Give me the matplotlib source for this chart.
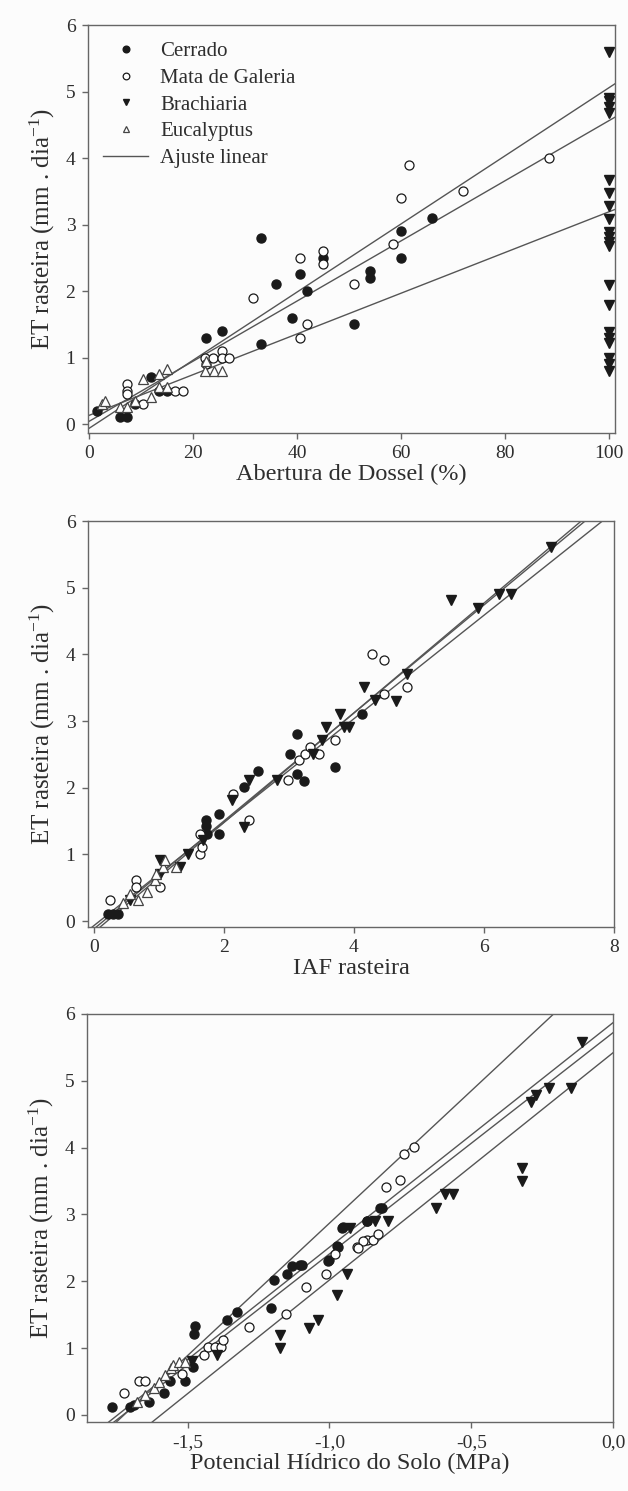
import matplotlib
matplotlib.use("Agg")
import matplotlib.pyplot as plt
from matplotlib.lines import Line2D
import numpy as np

plt.rcParams['font.family'] = ['Liberation Serif', 'DejaVu Serif']
plt.rcParams['mathtext.fontset'] = 'custom'
plt.rcParams['mathtext.rm'] = 'Liberation Serif'
plt.rcParams['mathtext.it'] = 'Liberation Serif'

# ---- Panel 1: Abertura de Dossel (%) ----
cer1_x = [1.5, 6, 7.4, 8.8, 12, 13.5, 15, 22.5, 25.5, 33, 39, 51, 33, 36, 40.5, 42, 45, 54, 54, 60, 60, 66]
cer1_y = [0.2, 0.1, 0.1, 0.3, 0.7, 0.5, 0.5, 1.3, 1.4, 1.2, 1.6, 1.5, 2.8, 2.1, 2.25, 2.0, 2.5, 2.3, 2.2, 2.9, 2.5, 3.1]
mat1_x = [7.4, 7.4, 7.4, 10.4, 16.5, 18, 22.3, 23.9, 25.5, 25.5, 27, 22.5, 31.5, 40.5, 42, 40.5, 45, 45, 51, 58.5, 60, 61.5, 72, 88.5]
mat1_y = [0.6, 0.5, 0.45, 0.3, 0.5, 0.5, 1.0, 1.0, 1.1, 1.0, 1.0, 0.9, 1.9, 1.3, 1.5, 2.5, 2.6, 2.4, 2.1, 2.7, 3.4, 3.9, 3.5, 4.0]
bra1_x = [100] * 21
bra1_y = [5.6, 4.9, 4.85, 4.77, 4.68, 3.67, 3.48, 3.28, 3.08, 2.89, 2.81, 2.74, 2.68, 2.09, 1.79,
          1.39, 1.3, 1.22, 1.0, 0.9, 0.8]
euc1_x = [2.5, 3, 6, 7.4, 8.8, 10.4, 12, 13.5, 15, 13.5, 15, 22.4, 24, 25.5, 22.5]
euc1_y = [0.3, 0.35, 0.25, 0.25, 0.35, 0.67, 0.4, 0.75, 0.82, 0.55, 0.55, 0.8, 0.8, 0.8, 0.95]
fit1_a = [-0.065, 0.04, 0.13]
fit1_b = [0.0512, 0.0452, 0.0306]

# ---- Panel 2: IAF rasteira ----
cer2_x = [0.22, 0.3, 0.37, 1.73, 1.73, 1.74, 1.92, 1.92, 2.31, 2.52, 3.02, 3.12, 3.12, 3.23, 3.71, 4.12]
cer2_y = [0.11, 0.11, 0.1, 1.52, 1.42, 1.31, 1.61, 1.31, 2.01, 2.25, 2.51, 2.81, 2.21, 2.1, 2.31, 3.1]
mat2_x = [0.25, 0.65, 0.65, 1.02, 1.64, 1.64, 1.67, 2.14, 2.38, 2.99, 3.15, 3.25, 3.32, 3.47, 3.71, 4.28,
          4.47, 4.46, 4.81]
mat2_y = [0.31, 0.61, 0.51, 0.51, 1.3, 1.01, 1.11, 1.91, 1.51, 2.11, 2.41, 2.51, 2.61, 2.51, 2.71, 4.01,
          3.91, 3.41, 3.51]
bra2_x = [0.55, 1.02, 1.02, 1.33, 1.45, 1.68, 2.12, 2.31, 2.38, 2.81, 3.37, 3.51, 3.57, 3.79, 3.84, 3.92,
          4.15, 4.33, 4.64, 4.82, 5.5, 5.91, 6.23, 6.42, 7.03]
bra2_y = [0.31, 0.91, 0.71, 0.81, 1.01, 1.21, 1.81, 1.41, 2.11, 2.11, 2.51, 2.71, 2.91, 3.1, 2.91, 2.91,
          3.51, 3.31, 3.3, 3.7, 4.81, 4.7, 4.91, 4.91, 5.61]
euc2_x = [0.45, 0.55, 0.68, 0.81, 0.94, 0.96, 1.07, 1.27, 1.1]
euc2_y = [0.27, 0.41, 0.31, 0.44, 0.61, 0.71, 0.81, 0.81, 0.91]
fit2_a = [-0.17, -0.12, -0.07]
fit2_b = [0.823, 0.81, 0.776]

# ---- Panel 3: Potencial Hidrico do Solo (MPa) ----
cer3_x = [-1.767, -1.702, -1.69, -1.635, -1.585, -1.562, -1.509, -1.482, -1.474, -1.477, -1.362, -1.327,
          -1.207, -1.195, -1.149, -1.133, -1.104, -1.004, -0.975, -0.951, -0.869, -0.822, -0.814, -0.868,
          -0.956, -0.971, -1.0, -1.098]
cer3_y = [0.125, 0.115, 0.15, 0.2, 0.325, 0.51, 0.51, 0.725, 1.325, 1.21, 1.415, 1.54,
          1.6, 2.015, 2.115, 2.225, 2.25, 2.31, 2.525, 2.81, 2.9, 3.1, 3.1, 2.9,
          2.8, 2.515, 2.315, 2.24]
mat3_x = [-1.726, -1.67, -1.65, -1.52, -1.444, -1.427, -1.403, -1.383, -1.374, -1.282, -1.153, -1.083,
          -1.012, -0.981, -0.904, -0.869, -0.846, -0.828, -0.738, -0.702, -0.799, -0.752, -0.88, -0.9]
mat3_y = [0.325, 0.51, 0.51, 0.615, 0.9, 1.015, 1.015, 1.015, 1.115, 1.31, 1.515, 1.91,
          2.115, 2.415, 2.515, 2.615, 2.615, 2.715, 3.91, 4.01, 3.41, 3.51, 2.6, 2.5]
bra3_x = [-1.485, -1.397, -1.174, -1.174, -1.071, -1.039, -0.972, -0.939, -0.928, -0.84, -0.794,
          -0.625, -0.593, -0.566, -0.322, -0.322, -0.289, -0.271, -0.224, -0.149, -0.108]
bra3_y = [0.815, 0.9, 1.2, 1.0, 1.3, 1.415, 1.8, 2.115, 2.8, 2.9, 2.9,
          3.1, 3.3, 3.3, 3.7, 3.5, 4.69, 4.785, 4.9, 4.9, 5.585]
euc3_x = [-1.68, -1.65, -1.62, -1.6, -1.58, -1.56, -1.55, -1.53, -1.51]
euc3_y = [0.2, 0.3, 0.4, 0.5, 0.6, 0.7, 0.75, 0.8, 0.8]
fit3_a = [6.83, 5.87, 5.72, 5.42]
fit3_b = [3.96, 3.36, 3.31, 3.40]

ink = '#1a1a1a'
line_c = '#555555'
txt_c = '#2e2e2e'
MS = 6.5


def scatter_groups(ax, groups):
    ax.plot(groups[0][0], groups[0][1], 'o', ms=MS, mfc=ink, mec=ink, ls='none', zorder=3)
    ax.plot(groups[1][0], groups[1][1], 'o', ms=MS, mfc='white', mec=ink, mew=0.9, ls='none', zorder=3)
    ax.plot(groups[2][0], groups[2][1], 'v', ms=MS, mfc=ink, mec=ink, ls='none', zorder=3)
    ax.plot(groups[3][0], groups[3][1], '^', ms=MS, mfc='white', mec='#444444', mew=0.9, ls='none', zorder=3)


def fit_lines(ax, a_list, b_list):
    x0, x1 = ax.get_xlim()
    xs = np.array([x0, x1])
    for a, b in zip(a_list, b_list):
        ax.plot(xs, a + b * xs, color=line_c, lw=1.0, zorder=2)


def style(ax, xlabel):
    for s in ax.spines.values():
        s.set_color('#666666')
        s.set_linewidth(1.0)
    ax.tick_params(direction='out', length=4, width=1, color='#666666', labelsize=14,
                   labelcolor=txt_c, top=False, right=False, pad=5)
    ax.set_yticks(range(0, 7))
    ax.set_xlabel(xlabel, fontsize=17.5, color=txt_c, labelpad=1)
    ax.set_ylabel('ET rasteira (mm . dia$^{-1}$)', fontsize=18, color=txt_c, labelpad=6)


fig = plt.figure(figsize=(6.28, 14.91), dpi=100)
fig.patch.set_facecolor('#fcfcfc')
H = 1491.0
W = 628.0

ax1 = fig.add_axes([88 / W, 1 - 433 / H, 527 / W, 408 / H])
ax1.set_xlim(-0.2, 101.2)
ax1.set_ylim(-0.135, 6)
fit_lines(ax1, fit1_a, fit1_b)
scatter_groups(ax1, [(cer1_x, cer1_y), (mat1_x, mat1_y), (bra1_x, bra1_y), (euc1_x, euc1_y)])
ax1.set_xticks(range(0, 101, 20))
style(ax1, 'Abertura de Dossel (%)')

handles = [
    Line2D([], [], marker='o', ls='none', ms=6, mfc=ink, mec=ink),
    Line2D([], [], marker='o', ls='none', ms=6, mfc='white', mec=ink, mew=0.9),
    Line2D([], [], marker='v', ls='none', ms=6, mfc=ink, mec=ink),
    Line2D([], [], marker='^', ls='none', ms=6, mfc='white', mec='#444444', mew=0.9),
    Line2D([], [], color=line_c, lw=1.0),
]
labels = ['Cerrado', 'Mata de Galeria', 'Brachiaria', 'Eucalyptus', 'Ajuste linear']
leg = ax1.legend(handles, labels, loc='upper left', bbox_to_anchor=(0, 0.995), frameon=False,
                 fontsize=15, handlelength=2.2, handletextpad=0.58, labelspacing=0.34,
                 borderaxespad=0, borderpad=0.7, markerscale=0.8)
for t in leg.get_texts():
    t.set_color(txt_c)

ax2 = fig.add_axes([88 / W, 1 - 927 / H, 526 / W, 406 / H])
ax2.set_xlim(-0.09, 8.0)
ax2.set_ylim(-0.09, 6)
fit_lines(ax2, fit2_a, fit2_b)
scatter_groups(ax2, [(cer2_x, cer2_y), (mat2_x, mat2_y), (bra2_x, bra2_y), (euc2_x, euc2_y)])
ax2.set_xticks(range(0, 9, 2))
style(ax2, 'IAF rasteira')

ax3 = fig.add_axes([87 / W, 1 - 1422 / H, 526 / W, 408 / H])
ax3.set_xlim(-1.855, 0.0)
ax3.set_ylim(-0.105, 6)
fit_lines(ax3, fit3_a, fit3_b)
scatter_groups(ax3, [(cer3_x, cer3_y), (mat3_x, mat3_y), (bra3_x, bra3_y), (euc3_x, euc3_y)])
ax3.set_xticks([-1.5, -1.0, -0.5, 0.0])
ax3.set_xticklabels(['-1,5', '-1,0', '-0,5', '0,0'])
style(ax3, 'Potencial Hídrico do Solo (MPa)')

for ax in (ax1, ax2, ax3):
    ax.set_facecolor('#fcfcfc')

fig.savefig('out.png', dpi=100, facecolor=fig.get_facecolor())
